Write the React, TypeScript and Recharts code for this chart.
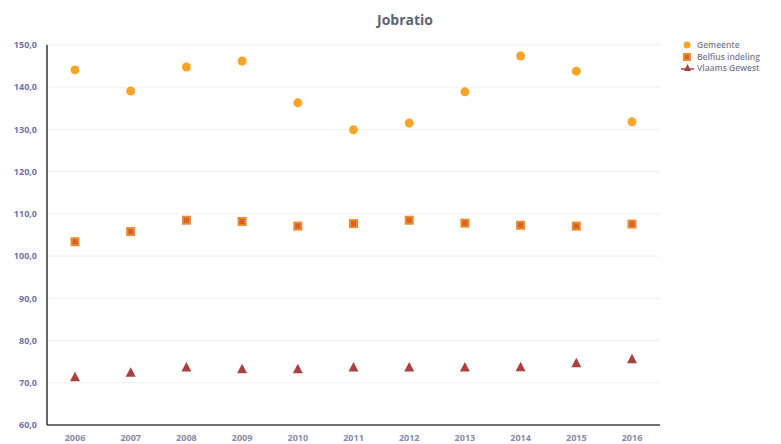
import React from 'react';
import { ComposedChart, Scatter, XAxis, YAxis, CartesianGrid } from 'recharts';

const years = ['2006', '2007', '2008', '2009', '2010', '2011', '2012', '2013', '2014', '2015', '2016'];
const gemeente = [144.1, 139.1, 144.8, 146.2, 136.3, 129.9, 131.5, 138.9, 147.4, 143.8, 131.8];
const belfius = [103.4, 105.8, 108.5, 108.2, 107.1, 107.7, 108.5, 107.8, 107.3, 107.1, 107.6];
const vlaams = [71.3, 72.4, 73.6, 73.2, 73.2, 73.6, 73.6, 73.6, 73.7, 74.6, 75.6];
const yTicks = [60, 70, 80, 90, 100, 110, 120, 130, 140, 150];
const seriesNames = ['Gemeente', 'Belfius indeling', 'Vlaams Gewest'];

const data = years.map((y, i) => ({ year: y, gemeente: gemeente[i], belfius: belfius[i], vlaams: vlaams[i] }));

const C_GEM = '#f7a428';
const C_BEL = '#ec8a2c';
const C_VLA = '#aa4040';
const FONT = '"Open Sans", sans-serif';

const Circle = (p: any) => <circle cx={p.cx} cy={p.cy} r={4.5} fill={C_GEM} />;
const Square = (p: any) => (
  <g>
    <rect x={p.cx - 4.5} y={p.cy - 4.5} width={9} height={9} fill={C_BEL} />
    <rect x={p.cx - 2.5} y={p.cy - 2.5} width={5} height={5} fill="#d9602c" />
  </g>
);
const Tri = (p: any) => (
  <path d={`M${p.cx},${p.cy - 5.5} L${p.cx + 5},${p.cy + 4} L${p.cx - 5},${p.cy + 4} Z`} fill={C_VLA} />
);

const fmt = (v: number) => v.toFixed(1).replace('.', ',');

export default function App() {
  return (
    <div style={{ position: 'absolute', left: 0, top: 0, width: 781, height: 444, background: '#fff', fontFamily: FONT }}>
      <div style={{ position: 'absolute', left: 340, top: 10, width: 130, textAlign: 'center', fontSize: 14, fontWeight: 700, color: '#5a6572' }}>
        Jobratio
      </div>
      <ComposedChart width={781} height={444} data={data} margin={{ top: 45, right: 121, bottom: 0, left: 0 }}>
        <CartesianGrid vertical={false} stroke="#f0f0f0" />
        <XAxis
          dataKey="year"
          type="category"
          height={19}
          padding={{ left: 28, right: 28 }}
          tickLine={false}
          axisLine={{ stroke: '#444', strokeWidth: 1.5 }}
          tick={{ fontSize: 9, fill: '#8a8aa6', fontFamily: FONT, fontWeight: 700 }}
          tickMargin={4}
        />
        <YAxis
          type="number"
          domain={[60, 150]}
          ticks={yTicks}
          width={47}
          tickLine={false}
          axisLine={{ stroke: '#333', strokeWidth: 1.5 }}
          tickFormatter={fmt}
          tick={{ fontSize: 9, fill: '#6f72aa', fontFamily: FONT, fontWeight: 700 }}
          tickMargin={4}
        />
        <Scatter name={seriesNames[0]} dataKey="gemeente" shape={Circle} isAnimationActive={false} />
        <Scatter name={seriesNames[1]} dataKey="belfius" shape={Square} isAnimationActive={false} />
        <Scatter name={seriesNames[2]} dataKey="vlaams" shape={Tri} isAnimationActive={false} />
      </ComposedChart>
      <div style={{ position: 'absolute', left: 681, top: 39, fontSize: 8.5, color: '#7c7c96', fontWeight: 600 }}>
        {seriesNames.map((n, i) => (
          <div key={n} style={{ display: 'flex', alignItems: 'center', whiteSpace: 'nowrap', height: 11.5, lineHeight: '11.5px' }}>
            <svg width={14} height={11} style={{ marginRight: 2, flex: 'none' }}>
              {i === 0 && <circle cx={6} cy={6} r={3.5} fill={C_GEM} />}
              {i === 1 && (
                <g>
                  <rect x={2} y={2} width={8} height={8} fill={C_BEL} />
                  <rect x={4} y={4} width={4} height={4} fill="#d9602c" />
                </g>
              )}
              {i === 2 && (
                <g>
                  <line x1={0} y1={7} x2={13} y2={7} stroke={C_VLA} strokeWidth={1.5} />
                  <path d="M6.5,2 L10,9 L3,9 Z" fill={C_VLA} />
                </g>
              )}
            </svg>
            <span>{n}</span>
          </div>
        ))}
      </div>
    </div>
  );
}
